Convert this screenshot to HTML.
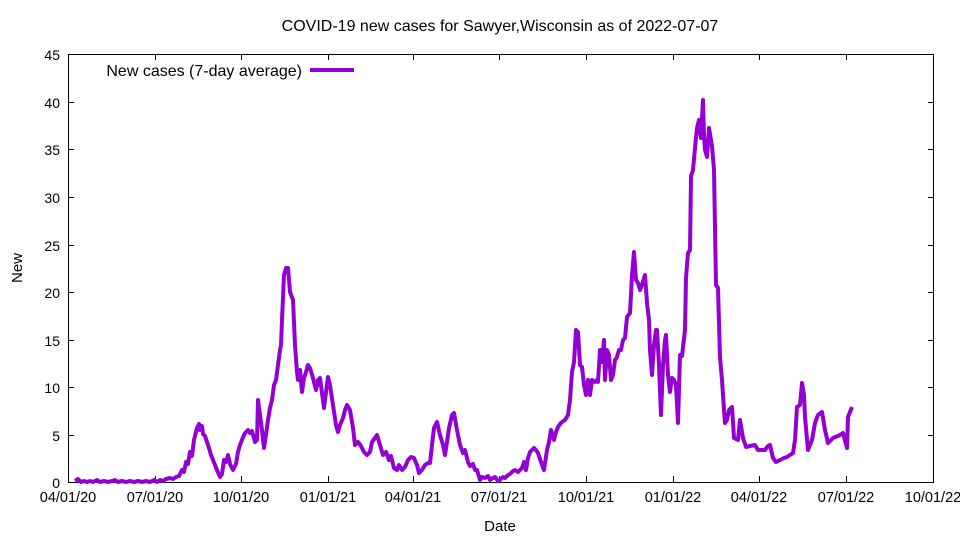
<!DOCTYPE html>
<html><head><style>body{margin:0;background:#fff}svg{display:block}text{font-family:"Liberation Sans",sans-serif;font-size:14px;fill:#000}</style></head>
<body>
<svg width="960" height="540" xmlns="http://www.w3.org/2000/svg">
<rect width="960" height="540" fill="#fff"/>
<text x="500" y="31" text-anchor="middle" style="font-size:16px">COVID-19 new cases for Sawyer,Wisconsin as of 2022-07-07</text>
<g stroke="#000" stroke-width="1" fill="none">
<rect x="68.5" y="54.5" width="865" height="428"/>
<path d="M68 435.5h6M68 387.5h6M68 340.5h6M68 292.5h6M68 245.5h6M68 197.5h6M68 149.5h6M68 102.5h6M934 435.5h-6M934 387.5h-6M934 340.5h-6M934 292.5h-6M934 245.5h-6M934 197.5h-6M934 149.5h-6M934 102.5h-6"/>
<path d="M155.5 482v-6M241.5 482v-6M328.5 482v-6M413.5 482v-6M499.5 482v-6M586.5 482v-6M673.5 482v-6M759.5 482v-6M846.5 482v-6M155.5 54v6M241.5 54v6M328.5 54v6M413.5 54v6M499.5 54v6M586.5 54v6M673.5 54v6M759.5 54v6M846.5 54v6"/>
</g>
<g text-anchor="end" style="font-size:16px">
<text x="60" y="488">0</text><text x="60" y="441">5</text><text x="60" y="393">10</text><text x="60" y="346">15</text><text x="60" y="298">20</text><text x="60" y="251">25</text><text x="60" y="203">30</text><text x="60" y="155">35</text><text x="60" y="108">40</text><text x="60" y="60">45</text>
</g>
<g text-anchor="middle">
<text x="68" y="502" style="font-size:14.5px">04/01/20</text><text x="155" y="502" style="font-size:14.5px">07/01/20</text><text x="241" y="502" style="font-size:14.5px">10/01/20</text><text x="328" y="502" style="font-size:14.5px">01/01/21</text><text x="413" y="502" style="font-size:14.5px">04/01/21</text><text x="499" y="502" style="font-size:14.5px">07/01/21</text><text x="586" y="502" style="font-size:14.5px">10/01/21</text><text x="673" y="502" style="font-size:14.5px">01/01/22</text><text x="759" y="502" style="font-size:14.5px">04/01/22</text><text x="846" y="502" style="font-size:14.5px">07/01/22</text><text x="933" y="502" style="font-size:14.5px">10/01/22</text>
<text x="500" y="531" style="font-size:15px">Date</text>
<text x="22" y="268" transform="rotate(-90 22 268)" style="font-size:15px">New</text>
</g>
<text x="302" y="76" text-anchor="end" style="font-size:16px">New cases (7-day average)</text>
<line x1="310" y1="70" x2="354" y2="70" stroke="#9400d3" stroke-width="4"/>
<polyline fill="none" stroke="#9400d3" stroke-width="4" stroke-linejoin="round" points="75,481 78,479 81,482 84,481 87,482 90,481 93,482 97,480 100,482 104,481 108,482 112,481 115,480 118,482 122,481 126,482 130,481 134,482 138,481 142,482 146,481 150,482 154,480 157,482 160,480 163,481 166,479 170,478 173,479 176,477 179,476 182,470 184,472 186,462 188,464 190,452 192,456 194,440 197,428 199,424 200,430 202,426 203,434 205,436 207,442 209,448 211,455 213,460 215,465 217,470 220,477 222,474 224,460 226,462 228,455 230,464 233,470 236,464 238,452 240,445 242,440 244,435 246,432 248,430 250,433 252,431 255,442 257,440 258,400 260,415 262,430 264,448 266,435 268,420 270,408 272,400 274,385 276,380 278,365 280,350 281,345 282,320 284,275 286,268 288,268 290,292 293,300 295,345 297,372 298,380 300,370 302,392 304,378 306,372 308,365 310,368 313,378 316,390 318,380 320,378 322,393 324,408 326,392 328,377 330,385 333,405 336,425 338,432 340,425 343,418 345,410 347,405 350,410 353,428 355,445 358,442 361,446 364,452 367,455 370,452 372,442 375,438 377,435 380,445 383,455 386,452 389,460 391,456 394,468 397,470 399,465 402,470 405,467 408,460 411,457 414,458 417,465 419,473 422,470 425,465 428,463 430,463 432,445 434,428 437,422 440,435 443,445 445,455 447,442 449,428 452,415 454,413 457,430 460,445 463,453 465,450 468,462 470,466 473,464 475,470 477,470 480,480 482,477 485,478 488,476 490,480 493,478 495,477 498,481 500,480 503,477 505,478 508,475 510,474 513,471 515,470 518,472 520,470 522,468 524,462 526,470 528,458 530,452 532,450 534,448 536,450 538,453 541,462 544,470 547,450 549,442 551,430 554,440 556,432 558,427 560,424 562,422 565,420 568,415 570,400 572,372 574,362 576,330 578,332 580,365 582,367 584,385 586,395 588,380 590,395 592,380 595,382 597,380 598,382 600,350 602,362 604,340 605,380 607,350 609,355 611,380 613,375 615,360 617,357 619,350 621,350 623,340 625,338 627,317 630,313 632,275 634,252 636,280 638,283 640,290 642,285 644,278 645,275 647,303 649,320 650,350 652,375 654,345 656,330 657,330 659,365 661,415 663,365 665,340 666,335 668,375 670,392 672,378 674,380 676,385 678,423 680,355 682,356 685,330 686,278 688,253 690,250 691,176 693,170 695,148 697,128 699,120 701,138 703,100 704,136 705,150 707,157 709,128 712,146 714,170 716,285 718,288 720,357 722,380 724,410 725,423 727,420 729,410 732,407 734,438 738,440 740,420 743,438 746,447 750,446 755,445 758,450 762,450 765,450 768,446 770,445 773,458 776,462 780,460 784,458 787,457 790,455 793,453 795,440 797,407 800,405 802,383 804,395 805,417 808,450 812,440 815,423 818,415 822,412 825,430 828,443 833,438 840,435 843,433 847,448 848,417 852,407"/>
</svg>
</body></html>
